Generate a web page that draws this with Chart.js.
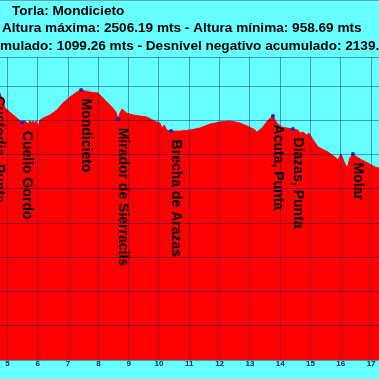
<!DOCTYPE html>
<html>
<head>
<meta charset="utf-8">
<script src="https://cdn.jsdelivr.net/npm/chart.js@4.4.0/dist/chart.umd.min.js"></script>
<style>
body { margin: 0; background: #66ffff; overflow: hidden; }
canvas { display: block; }
</style>
</head>
<body>
<canvas id="perfil" width="379" height="379"></canvas>
<script>
// perfil: distancia (km) y altura (m)
const distancias = [4.55, 4.75, 4.92, 5.08, 5.31, 5.48, 5.55, 5.61, 5.68, 5.74, 5.80, 5.84, 5.90, 5.94, 6.01, 6.07, 6.17, 6.40, 6.63, 6.83, 7.06, 7.29, 7.43, 7.56, 7.72, 7.99, 8.12, 8.28, 8.48, 8.58, 8.65, 8.71, 8.78, 8.94, 9.14, 9.37, 9.60, 9.80, 9.93, 10.03, 10.10, 10.17, 10.26, 10.40, 10.69, 11.02, 11.35, 11.68, 12.01, 12.34, 12.67, 13.00, 13.17, 13.23, 13.40, 13.60, 13.76, 13.89, 14.06, 14.22, 14.42, 14.59, 14.65, 14.75, 14.88, 14.95, 15.05, 15.25, 15.58, 15.81, 15.91, 16.01, 16.11, 16.21, 16.30, 16.40, 16.54, 16.70, 16.90, 17.13, 17.26, 17.40];
const alturas = [2390, 2359, 2271, 2248, 2213, 2188, 2200, 2190, 2178, 2198, 2186, 2196, 2184, 2196, 2160, 2201, 2213, 2231, 2260, 2301, 2336, 2365, 2377, 2371, 2365, 2359, 2336, 2306, 2271, 2248, 2207, 2242, 2266, 2242, 2231, 2225, 2219, 2201, 2190, 2184, 2155, 2172, 2143, 2137, 2137, 2143, 2155, 2178, 2190, 2196, 2184, 2160, 2143, 2131, 2155, 2201, 2225, 2184, 2160, 2155, 2149, 2143, 2125, 2131, 2114, 2125, 2096, 2044, 2015, 1985, 1968, 2003, 1956, 1921, 1979, 2003, 1985, 1968, 1950, 1927, 1921, 1912];

// puntos de paso
const puntosNombre = ['Custodia, Punta', 'Cuello Gordo', 'Mondicieto', 'Mirador de Sierracils', 'Brecha de Arazas', 'Acuta, Punta', 'Diazas, Punta', 'Molar'];
const puntosKm = [4.55, 5.48, 7.43, 8.65, 10.40, 13.76, 14.42, 16.40];
const puntosAltura = [2390, 2188, 2377, 2207, 2137, 2225, 2149, 2003];

const titulo = 'Torla: Mondicieto';
const lineaAlturas = 'Altura máxima: 2506.19 mts - Altura mínima: 958.69 mts';
const lineaDesnivel = 'Desnivel positivo acumulado: 1099.26 mts - Desnivel negativo acumulado: 2139.41 mts';

const fuente = '"Liberation Sans", Arial, sans-serif';

////////////////rotulos de los puntos y titulos////////////////
const rotulos = {
  id: 'rotulos',
  afterDraw(chart) {
    const ctx = chart.ctx;
    const sx = chart.scales.x, sy = chart.scales.y;
    ctx.save();
    ctx.fillStyle = '#000';
    ctx.font = 'bold 14px ' + fuente;
    ctx.textBaseline = 'middle';
    ctx.textAlign = 'left';
    puntosNombre.forEach(function (nombre, i) {
      const px = sx.getPixelForValue(puntosKm[i]);
      const py = sy.getPixelForValue(puntosAltura[i]);
      ctx.save();
      ctx.translate(px + 4.5, py + 8.5);
      ctx.rotate(Math.PI / 2);
      ctx.fillText(nombre, 0, 0);
      ctx.restore();
    });
    ctx.font = 'bold 13.6px ' + fuente;
    ctx.textBaseline = 'alphabetic';
    ctx.fillText(titulo, 12, 14.5);
    ctx.fillText(lineaAlturas, 2, 32);
    const corte = ctx.measureText('Desnivel positivo acu').width;
    ctx.fillText(lineaDesnivel, -corte, 49.5);
    ctx.restore();
  }
};

const rejilla = {
  color: 'rgba(0, 0, 120, 0.4)',
  lineWidth: 1,
  borderDash: [2, 2],
  drawTicks: false,
  z: 1
};

document.addEventListener('DOMContentLoaded', function () {
  const canvas = document.getElementById('perfil').getContext('2d');
  const chart = new Chart(canvas, {
    type: 'line',
    data: {
      datasets: [{
        data: puntosKm.map((k, i) => ({ x: k, y: puntosAltura[i] })),
        showLine: false,
        pointRadius: 2,
        pointBorderWidth: 0,
        pointBackgroundColor: '#2020c0',
        order: 0
      }, {
        data: distancias.map((d, i) => ({ x: d, y: alturas[i] })),
        borderColor: '#ff0000',
        backgroundColor: '#ff0000',
        borderWidth: 1,
        pointRadius: 0,
        tension: 0,
        fill: 'start',
        order: 1
      }]
    },
    options: {
      responsive: false,
      animation: false,
      maintainAspectRatio: false,
      layout: { autoPadding: false, padding: { top: 57, left: 0, right: 0, bottom: 0 } },
      plugins: {
        legend: { display: false },
        tooltip: { enabled: false }
      },
      scales: {
        x: {
          type: 'linear',
          min: 4.7525,
          max: 17.261,
          grid: rejilla,
          border: { display: true, color: '#555', width: 1 },
          ticks: {
            stepSize: 1,
            includeBounds: false,
            padding: -1,
            color: '#002255',
            font: { family: fuente, size: 8, weight: 'bold' },
            maxRotation: 0,
            autoSkip: false
          },
          afterFit: function (s) {
            s.height = 19;
            s.paddingLeft = 0;
            s.paddingRight = 0;
          }
        },
        y: {
          type: 'linear',
          min: 800,
          max: 2570,
          grid: rejilla,
          border: { display: false },
          ticks: { display: false },
          afterBuildTicks: function (s) {
            const t = [];
            for (let v = 800; v <= 2400; v += 200) t.push({ value: v });
            t.push({ value: 2570 });
            s.ticks = t;
          },
          afterFit: function (s) {
            s.width = 0;
            s.paddingTop = 0;
            s.paddingBottom = 0;
          }
        }
      }
    },
    plugins: [rotulos]
  });
});
</script>
</body>
</html>
